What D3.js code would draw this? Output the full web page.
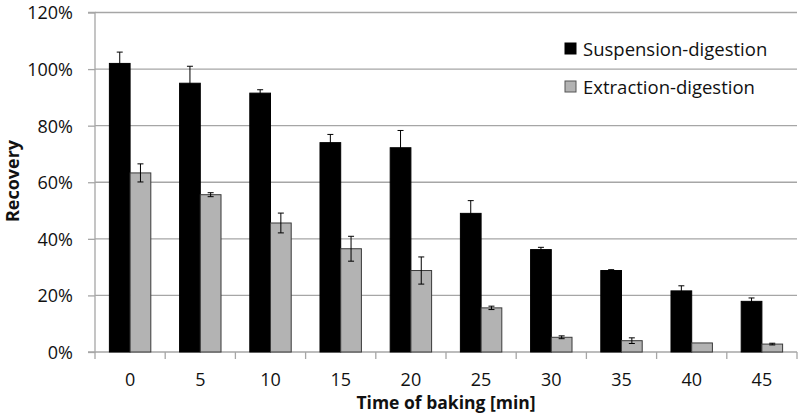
<!DOCTYPE html>
<html><head><meta charset="utf-8">
<script src="https://cdn.jsdelivr.net/npm/d3@7"></script>
<style>body{margin:0;background:#fff}svg{display:block}text{font-family:"Open Sans",sans-serif}</style>
</head><body><svg id="c" width="800" height="415"></svg>
<script>
const categories = ["0","5","10","15","20","25","30","35","40","45"];
const seriesNames = ["Suspension-digestion","Extraction-digestion"];
const suspension = [102, 95, 91.5, 74, 72.2, 49, 36.2, 28.8, 21.6, 17.9];
const suspensionErr = [4, 6, 1.2, 2.9, 6.1, 4.5, 0.8, 0.3, 1.8, 1.2];
const extraction = [63.3, 55.6, 45.6, 36.5, 28.8, 15.6, 5.2, 4.0, 3.2, 2.8];
const extractionErr = [3.2, 0.7, 3.5, 4.4, 4.8, 0.6, 0.5, 1.0, 0, 0.3];
const yTicks = [0, 20, 40, 60, 80, 100, 120];
const colors = ["#000000", "#b3b3b3"];

const svg = d3.select("#c");
const m = {l: 95, r: 797, t: 12.5, b: 352};
const x = d3.scaleBand().domain(categories).range([m.l, m.r]).paddingInner(0.41).paddingOuter(0.205);
const y = d3.scaleLinear().domain([0, 120]).range([m.b, m.t]);
const xs = d3.scaleBand().domain([0,1]).range([0, x.bandwidth()]);
const grid = "#a6a6a6";

// gridlines
svg.append("g").selectAll("line").data(yTicks.filter(d=>d>0)).join("line")
  .attr("x1", m.l).attr("x2", m.r).attr("y1", d=>y(d)).attr("y2", d=>y(d))
  .attr("stroke", grid).attr("stroke-width", 1.3);

// y axis
const ya = svg.append("g").attr("transform", `translate(${m.l},0)`)
  .call(d3.axisLeft(y).tickValues(yTicks).tickFormat(d=>d+"%").tickSize(7).tickPadding(15));
ya.select(".domain").attr("stroke", grid).attr("stroke-width",1.3).attr("d", `M-7,${m.t}H0V${m.b}H-7`);
ya.selectAll(".tick line").attr("stroke", grid).attr("stroke-width",1.3);
ya.selectAll(".tick text").attr("font-size", 18).attr("fill", "#111").attr("font-family","Open Sans").attr("dy","0.36em");

// x axis
const xBoundaries = d3.range(categories.length + 1).map(i => m.l + i * (m.r - m.l) / categories.length);
svg.append("line").attr("x1", m.l).attr("x2", m.r).attr("y1", m.b).attr("y2", m.b).attr("stroke", grid).attr("stroke-width",1.3);
svg.append("g").selectAll("line").data(xBoundaries).join("line")
  .attr("x1", d=>d).attr("x2", d=>d).attr("y1", m.b).attr("y2", m.b+7).attr("stroke", grid).attr("stroke-width",1.3);
svg.append("g").selectAll("text").data(categories).join("text")
  .attr("x", d=>x(d)+x.bandwidth()/2).attr("y", 385.5).attr("text-anchor","middle")
  .attr("font-size", 18).attr("fill","#111").text(d=>d);

// bars
const series = [suspension, extraction];
const errs = [suspensionErr, extractionErr];
series.forEach((vals, s) => {
  const g = svg.append("g");
  g.selectAll("rect").data(vals).join("rect")
    .attr("x", (d,i)=>x(categories[i]) + xs(s)).attr("width", xs.bandwidth())
    .attr("y", d=>y(d)).attr("height", d=>y(0)-y(d))
    .attr("fill", colors[s]).attr("stroke", s===0?"#000":"#3a3a3a").attr("stroke-width",1);
  const eg = svg.append("g").attr("stroke","#000").attr("stroke-width",1);
  vals.forEach((v,i)=>{
    const e = errs[s][i];
    if (!e) return;
    const cx = x(categories[i]) + xs(s) + xs.bandwidth()/2;
    eg.append("line").attr("x1",cx).attr("x2",cx).attr("y1",y(v+e)).attr("y2",y(v-e));
    eg.append("line").attr("x1",cx-3).attr("x2",cx+3).attr("y1",y(v+e)).attr("y2",y(v+e));
    eg.append("line").attr("x1",cx-3).attr("x2",cx+3).attr("y1",y(v-e)).attr("y2",y(v-e));
  });
});

// legend
const lg = svg.append("g");
seriesNames.forEach((n,i)=>{
  const yy = 49 + i*38;
  lg.append("rect").attr("x",565).attr("y",yy-6).attr("width",11).attr("height",11)
    .attr("fill",colors[i]).attr("stroke", i===0?"#000":"#555").attr("stroke-width",1);
  lg.append("text").attr("x",583).attr("y",yy+6.5).attr("font-size",18.5).attr("fill","#111").text(n);
});

// axis titles
svg.append("text").attr("transform","translate(19,181) rotate(-90)").attr("text-anchor","middle")
  .attr("font-size",18).attr("font-weight","bold").attr("fill","#111").text("Recovery");
svg.append("text").attr("x",446).attr("y",409).attr("text-anchor","middle")
  .attr("font-size",17.5).attr("font-weight","bold").attr("fill","#111").text("Time of baking [min]");
</script></body></html>
